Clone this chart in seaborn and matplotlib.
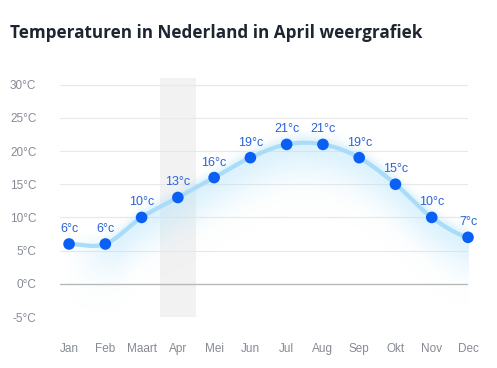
import numpy as np
import pandas as pd
import matplotlib
matplotlib.use('Agg')
import matplotlib.pyplot as plt
import seaborn as sns

# Gegevens
maanden = ['Jan', 'Feb', 'Maart', 'Apr', 'Mei', 'Jun', 'Jul', 'Aug', 'Sep', 'Okt', 'Nov', 'Dec']
temperaturen = [6, 6, 10, 13, 16, 19, 21, 21, 19, 15, 10, 7]
y_ticks = [-5, 0, 5, 10, 15, 20, 25, 30]
gekozen_maand = 'Apr'

df = pd.DataFrame({'maand': maanden, 'temp': temperaturen})
df['x'] = range(len(df))

# Vloeiende lijn (Catmull-Rom) tussen de punten
def smooth_curve(x, y, n=40):
    x = np.asarray(x, float)
    y = np.asarray(y, float)
    px = np.concatenate([[2 * x[0] - x[1]], x, [2 * x[-1] - x[-2]]])
    py = np.concatenate([[y[0]], y, [y[-1]]])
    xs, ys = [], []
    for i in range(1, len(px) - 2):
        t = np.linspace(0, 1, n, endpoint=False)
        for arr, p in ((xs, px), (ys, py)):
            p0, p1, p2, p3 = p[i - 1], p[i], p[i + 1], p[i + 2]
            arr.append(0.5 * (2 * p1 + (-p0 + p2) * t + (2 * p0 - 5 * p1 + 4 * p2 - p3) * t**2
                              + (-p0 + 3 * p1 - 3 * p2 + p3) * t**3))
    xs.append([x[-1]])
    ys.append([y[-1]])
    return np.concatenate(xs), np.concatenate(ys)

xs, ys = smooth_curve(df['x'], df['temp'])
curve = pd.DataFrame({'x': xs, 'y': ys})

sns.set_style('white')
plt.rcParams['font.family'] = ['Liberation Sans', 'DejaVu Sans']

fig = plt.figure(figsize=(4.97, 3.68), dpi=100)
ax = fig.add_axes([60 / 497, 51 / 368, 408 / 497, 239 / 368])

# Grijze band voor de gekozen maand
i_sel = maanden.index(gekozen_maand)
ax.axvspan(i_sel - 0.5, i_sel + 0.5, color='#f2f2f2', zorder=0, lw=0)

# Rasterlijnen
for v in y_ticks:
    ax.axhline(v, color='#b8b8b8' if v == 0 else '#e8e8e8', lw=1 if v == 0 else 0.8, zorder=1)

# Zachte gloed onder de lijn
gx = np.linspace(-0.25, 11.3, 500)
gy = np.linspace(-5, 31, 400)
GX, GY = np.meshgrid(gx, gy)
dy = np.interp(GX, curve['x'], curve['y']) - GY
alpha = np.where(dy > 0, np.exp(-(dy / 5.0) ** 2), np.exp(-(dy / 1.2) ** 2)) * 0.45
alpha *= np.clip((GX + 0.1) / 1.5, 0, 1)
rgba = np.zeros(GX.shape + (4,))
rgba[..., :3] = matplotlib.colors.to_rgb('#b3e3fb')
rgba[..., 3] = alpha
ax.imshow(rgba, extent=(gx[0], gx[-1], gy[0], gy[-1]), origin='lower', aspect='auto', zorder=2,
          interpolation='bilinear')

sns.lineplot(data=curve, x='x', y='y', ax=ax, color='#a9dcf8', lw=3, zorder=3, sort=False)
sns.scatterplot(data=df, x='x', y='temp', ax=ax, color='#0a5ff5', s=70, edgecolor='none', zorder=4, clip_on=False)

for _, r in df.iterrows():
    ax.annotate(f"{r['temp']}°c", (r['x'], r['temp']), xytext=(0, 6.5), textcoords='offset points',
                ha='center', va='bottom', fontsize=9, color='#2a63d4', annotation_clip=False)

ax.set_xlim(-0.25, 11)
ax.set_ylim(-5, 31)
ax.set_xticks(df['x'])
ax.set_xticklabels(maanden)
ax.set_yticks(y_ticks)
ax.set_yticklabels([f'{v}°C' for v in y_ticks])
ax.tick_params(axis='both', length=0, labelsize=8.5, colors='#868a94')
ax.tick_params(axis='y', pad=17)
ax.tick_params(axis='x', pad=19)
ax.set_xlabel('')
ax.set_ylabel('')
for s in ax.spines.values():
    s.set_visible(False)

fig.text(10 / 497, 1 - 33 / 368, 'Temperaturen in Nederland in April weergrafiek', fontsize=12.3,
         fontweight='bold', color='#1d2530', va='center', ha='left', family=['Open Sans', 'DejaVu Sans'])

fig.savefig('out.png', dpi=100)
